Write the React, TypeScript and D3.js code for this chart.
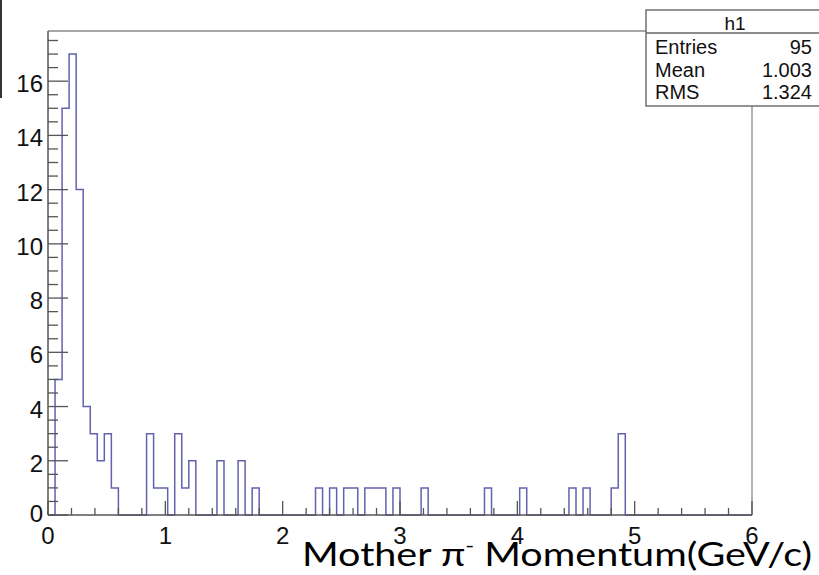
import React from "react";
import * as d3 from "d3";

// Histogram h1: 100 bins over [0, 6] GeV/c
const xMin = 0;
const xMax = 6;
const nBins = 100;
const binCounts = [
  0, 5, 15, 17, 12, 4, 3, 2, 3, 1,
  0, 0, 0, 0, 3, 1, 1, 0, 3, 1,
  2, 0, 0, 0, 2, 0, 0, 2, 0, 1,
  0, 0, 0, 0, 0, 0, 0, 0, 1, 0,
  1, 0, 1, 1, 0, 1, 1, 1, 0, 1,
  0, 0, 0, 1, 0, 0, 0, 0, 0, 0,
  0, 0, 1, 0, 0, 0, 0, 1, 0, 0,
  0, 0, 0, 0, 1, 0, 1, 0, 0, 0,
  1, 3, 0, 0, 0, 0, 0, 0, 0, 0,
  0, 0, 0, 0, 0, 0, 0, 0, 0, 0,
];
const yMax = 17.85;
const xTickLabels = [0, 1, 2, 3, 4, 5, 6];
const yTickLabels = [0, 2, 4, 6, 8, 10, 12, 14, 16];
const statsTitle = "h1";
const statsNames = ["Entries", "Mean", "RMS"];
const statsValues = ["95", "1.003", "1.324"];

const W = 819;
const H = 575;
const rootFont = "'Liberation Sans', Arial, Helvetica, sans-serif";

export default function App() {
  const x = d3.scaleLinear().domain([xMin, xMax]).range([48, 752]);
  const y = d3.scaleLinear().domain([0, yMax]).range([515, 31]);
  const binW = (xMax - xMin) / nBins;

  // step outline of the histogram
  const pts: [number, number][] = [[x(xMin), y(0)]];
  binCounts.forEach((c, i) => {
    const lo = xMin + i * binW;
    pts.push([x(lo), y(c)]);
    pts.push([x(lo + binW), y(c)]);
  });
  pts.push([x(xMax), y(0)]);
  const histPath = d3.line()(pts) ?? "";

  const xMinor = d3.range(0, 30 + 1).map((k) => k * 0.2);
  const yMinor = d3.range(0, 36).map((k) => k * 0.5);

  const axisColor = "#555";
  const frameColor = "#8a8a8a";

  return (
    <svg
      width={W}
      height={H}
      style={{ position: "absolute", left: 0, top: 0, background: "#fff" }}
    >
      <rect x={0} y={0} width={W} height={H} fill="#fff" />
      {/* slide border fragment at top-left */}
      <line x1={1} y1={0} x2={1} y2={98} stroke="#333" strokeWidth={2} />

      {/* frame */}
      <line x1={x(xMin)} y1={y(yMax)} x2={646} y2={y(yMax)} stroke={frameColor} strokeWidth={1.3} />
      <line x1={x(xMax)} y1={106} x2={x(xMax)} y2={y(0)} stroke={frameColor} strokeWidth={1.3} />

      {/* histogram */}
      <path d={histPath} fill="none" stroke="#6262ae" strokeWidth={1.5} />

      {/* y axis */}
      <line x1={x(xMin)} y1={y(0)} x2={x(xMin)} y2={y(yMax)} stroke={axisColor} strokeWidth={1.5} />
      {yMinor.map((v) => {
        const major = v % 2 === 0;
        return (
          <line
            key={"ym" + v}
            x1={x(xMin)}
            x2={x(xMin) + (major ? 20 : 10)}
            y1={y(v)}
            y2={y(v)}
            stroke={axisColor}
            strokeWidth={1.3}
          />
        );
      })}
      {yTickLabels.map((v) => (
        <text
          key={"yl" + v}
          x={43}
          y={y(v) + (v === 0 ? 7 : 11)}
          textAnchor="end"
          fontFamily={rootFont}
          fontSize={24}
          fill="#111"
        >
          {v}
        </text>
      ))}

      {/* x axis */}
      <line x1={x(xMin)} y1={y(0)} x2={x(xMax)} y2={y(0)} stroke={axisColor} strokeWidth={1.5} />
      {xMinor.map((v) => {
        const major = Math.abs(v - Math.round(v)) < 1e-6;
        return (
          <line
            key={"xm" + v}
            x1={x(v)}
            x2={x(v)}
            y1={y(0)}
            y2={y(0) - (major ? 14 : 7)}
            stroke={axisColor}
            strokeWidth={1.3}
          />
        );
      })}
      {xTickLabels.map((v) => (
        <text
          key={"xl" + v}
          x={x(v)}
          y={544}
          textAnchor="middle"
          fontFamily={rootFont}
          fontSize={24}
          fill="#111"
        >
          {v}
        </text>
      ))}

      {/* axis title */}
      <text
        x={302}
        y={566}
        fontFamily="Lato, 'Open Sans', sans-serif"
        fontSize={33}
        fill="#000"
        textLength={510}
        lengthAdjust="spacingAndGlyphs"
      >
        Mother π
        <tspan fontSize={20} dy={-14}>-</tspan>
        <tspan dy={14}> Momentum(GeV/c)</tspan>
      </text>

      {/* statistics box */}
      <g>
        <rect x={646} y={10} width={190} height={96} fill="#fff" stroke="#666" strokeWidth={1.4} />
        <line x1={646} y1={33} x2={836} y2={33} stroke="#666" strokeWidth={1.4} />
        <text x={735} y={30} textAnchor="middle" fontFamily={rootFont} fontSize={19} fill="#111">
          {statsTitle}
        </text>
        {statsNames.map((n, i) => (
          <g key={n}>
            <text x={655} y={54 + i * 22.5} fontFamily={rootFont} fontSize={20} fill="#111">
              {n}
            </text>
            <text x={812} y={54 + i * 22.5} textAnchor="end" fontFamily={rootFont} fontSize={20} fill="#111">
              {statsValues[i]}
            </text>
          </g>
        ))}
      </g>
    </svg>
  );
}
